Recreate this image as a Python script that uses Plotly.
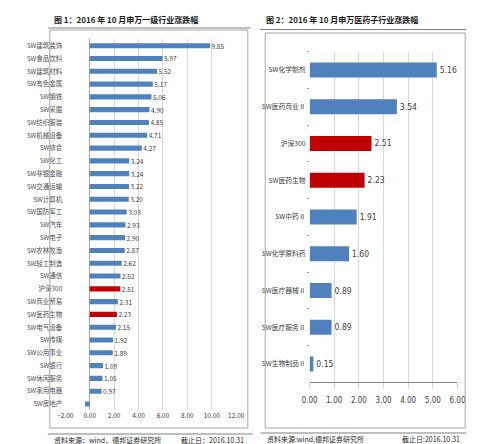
import plotly.graph_objects as go

# ---- data: chart 1 ----
cats1 = ["SW建筑装饰", "SW食品饮料", "SW建筑材料", "SW有色金属", "SW钢铁", "SW采掘",
         "SW纺织服装", "SW机械设备", "SW综合", "SW化工", "SW非银金融", "SW交通运输",
         "SW计算机", "SW国防军工", "SW汽车", "SW电子", "SW农林牧渔", "SW轻工制造",
         "SW通信", "沪深300", "SW商业贸易", "SW医药生物", "SW电气设备", "SW传媒",
         "SW公用事业", "SW银行", "SW休闲服务", "SW家用电器", "SW房地产"]
vals1 = [9.85, 5.97, 5.52, 5.17, 5.06, 4.90, 4.85, 4.71, 4.27, 3.24, 3.24, 3.22,
         3.20, 3.03, 2.93, 2.90, 2.87, 2.62, 2.52, 2.51, 2.31, 2.23, 2.15, 1.92,
         1.89, 1.09, 1.05, 0.97, -0.38]
xticks1 = [-2, 0, 2, 4, 6, 8, 10, 12]

# ---- data: chart 2 ----
cats2 = ["SW化学制剂", "SW医药商业Ⅱ", "沪深300", "SW医药生物", "SW中药Ⅱ",
         "SW化学原料药", "SW医疗器械Ⅱ", "SW医疗服务Ⅱ", "SW生物制品Ⅱ"]
vals2 = [5.16, 3.54, 2.51, 2.23, 1.91, 1.60, 0.89, 0.89, 0.15]
xticks2 = [0, 1, 2, 3, 4, 5, 6]

highlight = {"沪深300", "SW医药生物"}
BLUE = "#4F81BD"
RED = "#C00000"
W, H = 500, 444

cols1 = [RED if c in highlight else BLUE for c in cats1]
cols2 = [RED if c in highlight else BLUE for c in cats2]
txt1 = [f"\u00a0{v:.2f}" if v >= 0 else "" for v in vals1]
txt2 = [f"{v:.2f}" for v in vals2]

CJK = "Noto Sans CJK SC, Liberation Sans, sans-serif"
NARROW = "Liberation Sans Narrow, DejaVu Sans Condensed, Noto Sans CJK SC, sans-serif"

fig = go.Figure()
fig.add_trace(go.Bar(
    x=vals1, y=cats1, orientation="h", marker=dict(color=cols1, line=dict(width=0)),
    text=txt1, textposition="outside", cliponaxis=False, constraintext="none",
    textfont=dict(size=6.5, color="#404040", family=CJK), width=0.4,
    xaxis="x", yaxis="y", showlegend=False))
fig.add_trace(go.Bar(
    x=vals2, y=cats2, orientation="h", marker=dict(color=cols2, line=dict(width=0)),
    text=txt2, textposition="outside", cliponaxis=False, constraintext="none",
    textfont=dict(size=8.5, color="#404040", family=NARROW), width=0.41,
    xaxis="x2", yaxis="y2", showlegend=False))

def px(x):
    return x / W

def py(y):
    return 1 - y / H

fig.update_layout(
    width=W, height=H, margin=dict(l=0, r=0, t=0, b=0),
    paper_bgcolor="white", plot_bgcolor="white",
    font=dict(family=CJK, color="#404040"),
    xaxis=dict(domain=[px(51), px(228)], range=[-2, 12], tickvals=xticks1,
               tickformat=".2f", showgrid=True, gridcolor="#D9D9D9", gridwidth=1,
               zeroline=True, zerolinecolor="#A6A6A6", zerolinewidth=1,
               showline=False, ticks="", tickfont=dict(size=6.5, color="#404040"),
               anchor="y", fixedrange=True),
    yaxis=dict(domain=[py(402.4), py(31.3)], autorange="reversed", anchor="x",
               showgrid=False, ticks="", tickfont=dict(size=6.5, color="#505050"),
               ticklabelstandoff=2, fixedrange=True),
    xaxis2=dict(domain=[px(304), px(457)], range=[0, 6], tickvals=xticks2,
                tickformat=".2f", showgrid=True, gridcolor="#D9D9D9", gridwidth=1,
                zeroline=False, showline=True, linecolor="#808080", linewidth=1,
                ticks="outside", ticklen=6, tickcolor="#D9D9D9",
                tickfont=dict(size=8, color="#404040", family=NARROW),
                ticklabelstandoff=4, anchor="y2", fixedrange=True),
    yaxis2=dict(domain=[py(374.4), py(43.6)], autorange="reversed", anchor="x2",
                showgrid=False, showline=False, ticks="outside", ticklen=2,
                tickcolor="#A6A6A6", tickson="boundaries",
                tickfont=dict(size=6.8, color="#404040"), ticklabelstandoff=3,
                fixedrange=True),
)

shapes = []
# left panel lines
shapes.append(dict(type="line", xref="paper", yref="paper", x0=px(33), x1=px(243),
                   y0=py(20), y1=py(20), line=dict(color="#808080", width=1.2)))
shapes.append(dict(type="rect", xref="paper", yref="paper", x0=px(35), x1=px(240),
                   y0=py(420), y1=py(22), line=dict(color="#A6A6A6", width=1)))
shapes.append(dict(type="line", xref="paper", yref="paper", x0=px(33), x1=px(245),
                   y0=py(426), y1=py(426), line=dict(color="#808080", width=1.2)))
# right panel lines
shapes.append(dict(type="line", xref="paper", yref="paper", x0=px(253), x1=px(466),
                   y0=py(21.5), y1=py(21.5), line=dict(color="#808080", width=1.2)))
shapes.append(dict(type="rect", xref="paper", yref="paper", x0=px(258), x1=px(465),
                   y0=py(420), y1=py(25), line=dict(color="#A6A6A6", width=1)))
shapes.append(dict(type="line", xref="paper", yref="paper", x0=px(253), x1=px(466),
                   y0=py(425), y1=py(425), line=dict(color="#808080", width=1.2)))
fig.update_layout(shapes=shapes)

ann = [
    dict(text="<b>图 1：2016 年 10 月申万一级行业涨跌幅</b>", x=px(37), y=py(12),
         xanchor="left", yanchor="middle", font=dict(size=8, color="#1a1a1a")),
    dict(text="<b>图 2：2016 年 10 月申万医药子行业涨跌幅</b>", x=px(257), y=py(12),
         xanchor="left", yanchor="middle", font=dict(size=8, color="#1a1a1a")),
    dict(text="资料来源：wind，德邦证券研究所", x=px(37), y=py(432),
         xanchor="left", yanchor="middle", font=dict(size=7, color="#262626")),
    dict(text="截止日：2016.10.31", x=px(238), y=py(432),
         xanchor="right", yanchor="middle", font=dict(size=7, color="#262626")),
    dict(text="资料来源:wind,德邦证券研究所", x=px(258), y=py(431),
         xanchor="left", yanchor="middle", font=dict(size=7, color="#262626")),
    dict(text="截止日:2016.10.31", x=px(462), y=py(431),
         xanchor="right", yanchor="middle", font=dict(size=7, color="#262626")),
]
for a in ann:
    a.update(xref="paper", yref="paper", showarrow=False)
fig.update_layout(annotations=ann)

fig.write_html("out.html")
